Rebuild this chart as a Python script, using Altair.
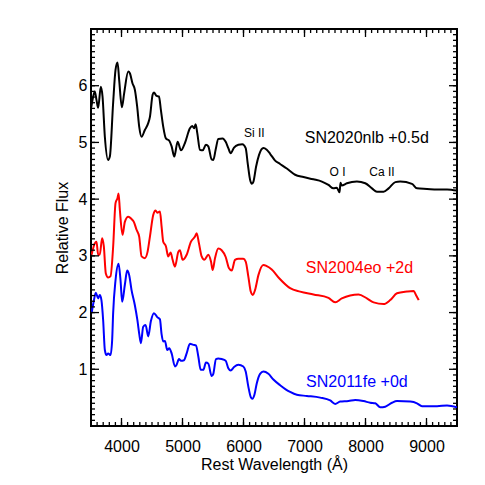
import altair as alt
import pandas as pd

# ---- data ----
nlb_wave = [3505, 3525, 3562, 3590, 3617, 3661, 3689, 3727, 3781, 3809, 3863, 3902, 3935, 3962, 4006, 4044,
            4110, 4137, 4181, 4219, 4257, 4290, 4329, 4383, 4438, 4466, 4510, 4532, 4575, 4614, 4646, 4684,
            4728, 4783, 4822, 4865, 4920, 4975, 5040, 5122, 5160, 5190, 5215, 5243, 5286, 5330, 5385, 5423,
            5478, 5505, 5543, 5587, 5658, 5708, 5751, 5790, 5845, 5916, 5981, 6036, 6069, 6108, 6136, 6163,
            6206, 6255, 6326, 6381, 6436, 6518, 6600, 6710, 6846, 6983, 7147, 7285, 7393, 7475, 7530, 7575,
            7590, 7610, 7695, 7859, 7996, 8106, 8188, 8297, 8379, 8488, 8570, 8762, 8844, 9009, 9173, 9337, 9500]
nlb_flux = [5.62, 5.75, 5.90, 5.75, 5.61, 5.98, 5.81, 5.10, 4.69, 4.75, 5.70, 6.28, 6.41, 6.10, 5.62, 5.87,
            6.25, 6.22, 6.04, 5.93, 5.63, 5.28, 5.10, 5.22, 5.34, 5.45, 5.84, 5.88, 5.82, 5.81, 5.57, 5.28,
            5.07, 5.03, 4.93, 4.75, 5.01, 4.86, 4.99, 5.25, 5.29, 5.25, 5.32, 5.16, 4.87, 4.86, 4.96, 4.93,
            4.70, 4.69, 4.87, 5.06, 5.07, 5.01, 4.90, 4.81, 4.91, 4.96, 4.97, 4.90, 4.63, 4.34, 4.27, 4.31,
            4.57, 4.78, 4.90, 4.87, 4.80, 4.68, 4.62, 4.54, 4.43, 4.39, 4.35, 4.31, 4.25, 4.19, 4.20, 4.12,
            4.29, 4.24, 4.28, 4.31, 4.28, 4.19, 4.13, 4.13, 4.19, 4.30, 4.31, 4.27, 4.19, 4.18, 4.17, 4.17, 4.15]

eo_wave = [3510, 3562, 3590, 3617, 3644, 3682, 3710, 3743, 3781, 3820, 3863, 3902, 3935, 3952, 3973, 4017,
           4055, 4110, 4164, 4202, 4247, 4290, 4329, 4383, 4427, 4466, 4520, 4559, 4587, 4630, 4657, 4684,
           4728, 4766, 4805, 4838, 4876, 4931, 4958, 5002, 5068, 5139, 5205, 5232, 5270, 5314, 5358, 5424,
           5467, 5495, 5533, 5587, 5642, 5708, 5763, 5806, 5861, 5916, 5997, 6036, 6080, 6119, 6152, 6190,
           6244, 6326, 6381, 6463, 6589, 6764, 6929, 7147, 7393, 7503, 7612, 7886, 8023, 8133, 8297, 8406,
           8516, 8680, 8790, 8827, 8872]
eo_flux = [3.02, 3.22, 3.25, 3.02, 3.02, 3.31, 3.17, 2.69, 2.62, 2.64, 3.16, 3.93, 4.02, 4.10, 3.81, 3.37,
           3.60, 3.69, 3.65, 3.60, 3.46, 3.34, 2.99, 2.96, 3.07, 3.34, 3.72, 3.80, 3.76, 3.78, 3.52, 3.25,
           3.17, 2.99, 3.06, 2.93, 2.81, 3.07, 3.10, 2.93, 3.02, 3.25, 3.34, 3.40, 3.22, 2.99, 2.93, 3.02,
           2.90, 2.75, 2.96, 3.13, 3.10, 2.98, 2.78, 2.74, 2.93, 2.95, 2.95, 2.90, 2.63, 2.37, 2.31, 2.40,
           2.66, 2.84, 2.82, 2.76, 2.60, 2.43, 2.37, 2.32, 2.26, 2.18, 2.25, 2.32, 2.25, 2.18, 2.15, 2.22,
           2.34, 2.37, 2.38, 2.31, 2.22]

fe_wave = [3510, 3545, 3579, 3617, 3644, 3671, 3699, 3727, 3754, 3781, 3820, 3847, 3863, 3902, 3952, 3984,
           4011, 4055, 4093, 4126, 4164, 4219, 4260, 4290, 4318, 4356, 4395, 4438, 4482, 4532, 4586, 4630,
           4657, 4684, 4712, 4750, 4783, 4822, 4876, 4904, 4942, 4975, 5024, 5068, 5122, 5177, 5221, 5260,
           5298, 5341, 5385, 5423, 5478, 5505, 5549, 5587, 5642, 5708, 5751, 5790, 5845, 5916, 5997, 6036,
           6080, 6119, 6146, 6179, 6217, 6272, 6326, 6408, 6490, 6600, 6764, 6874, 7039, 7257, 7421, 7503,
           7585, 7722, 7832, 7968, 8078, 8160, 8242, 8324, 8434, 8516, 8735, 8844, 8927, 9009, 9173, 9337, 9500]
fe_flux = [1.99, 2.20, 2.35, 2.25, 2.31, 2.22, 1.87, 1.34, 1.25, 1.28, 1.25, 1.52, 1.99, 2.57, 2.86, 2.57,
           2.19, 2.49, 2.74, 2.66, 2.40, 2.13, 1.87, 1.63, 1.46, 1.75, 1.78, 1.58, 1.85, 1.99, 1.92, 1.88,
           1.62, 1.49, 1.50, 1.34, 1.37, 1.28, 1.05, 1.08, 1.18, 1.15, 1.16, 1.28, 1.45, 1.43, 1.42, 1.22,
           0.99, 0.99, 1.12, 1.10, 0.88, 0.92, 1.18, 1.19, 1.18, 1.15, 1.02, 0.98, 1.04, 1.08, 1.05, 0.96,
           0.69, 0.51, 0.48, 0.55, 0.75, 0.92, 0.96, 0.92, 0.82, 0.72, 0.60, 0.55, 0.53, 0.50, 0.45, 0.39,
           0.43, 0.44, 0.46, 0.44, 0.41, 0.40, 0.33, 0.34, 0.41, 0.44, 0.43, 0.40, 0.35, 0.35, 0.35, 0.36, 0.33]

series_names = ["SN2020nlb", "SN2004eo", "SN2011fe"]
series_colors = ["#000000", "#ff0000", "#0000ff"]

label_text = ["SN2020nlb +0.5d", "SN2004eo +2d", "SN2011fe +0d", "Si II", "O I", "Ca II"]
label_wave = [8021, 7901, 7859, 6178, 7541, 8270]
label_flux = [5.07, 2.79, 0.78, 5.16, 4.47, 4.47]
label_color = ["#000000", "#ff0000", "#0000ff", "#000000", "#000000", "#000000"]
label_size = [16, 16, 16, 12, 12, 12]

x_major = [4000, 5000, 6000, 7000, 8000, 9000]
x_minor = list(range(3500, 9501, 100))
y_major = [1, 2, 3, 4, 5, 6]
y_minor = [round(i * 0.1, 1) for i in range(0, 71)]

FONT = "Liberation Sans"
W, H = 366, 397
MAJOR, MINOR = 8, 4

# ---- build tables ----
rows = []
for name, ws, fs in zip(series_names, [nlb_wave, eo_wave, fe_wave], [nlb_flux, eo_flux, fe_flux]):
    assert len(ws) == len(fs), (name, len(ws), len(fs))
    for w, f in zip(ws, fs):
        rows.append({"series": name, "wave": w, "flux": f})
df = pd.DataFrame(rows)
labels = pd.DataFrame({"text": label_text, "wave": label_wave, "flux": label_flux,
                       "color": label_color, "size": label_size})

xs = alt.Scale(domain=[3500, 9500], nice=False, zero=False)
ys = alt.Scale(domain=[0, 7], nice=False, zero=False)

X_AXIS = alt.Axis(values=x_major, ticks=False, domain=False, grid=False, format="d",
                  labelPadding=12, labelFontSize=16, labelFont=FONT, labelColor="black",
                  title="Rest Wavelength (Å)",
                  titleFontSize=16, titleFont=FONT, titleFontWeight="normal",
                  titleColor="black", titlePadding=2)
Y_AXIS = alt.Axis(values=y_major, ticks=False, domain=False, grid=False, format="d",
                  labelPadding=4, labelFontSize=16, labelFont=FONT, labelColor="black",
                  title="Relative Flux",
                  titleFontSize=16, titleFont=FONT, titleFontWeight="normal",
                  titleColor="black", titlePadding=8)

lines = alt.Chart(df).mark_line(strokeWidth=2, interpolate="monotone", clip=True).encode(
    x=alt.X("wave:Q", scale=xs, axis=X_AXIS),
    y=alt.Y("flux:Q", scale=ys, axis=Y_AXIS),
    color=alt.Color("series:N", scale=alt.Scale(domain=series_names, range=series_colors), legend=None),
    detail="series:N",
)


def xticks(values, side, length):
    y0 = H if side == "bottom" else 0
    y1 = H - length if side == "bottom" else length
    return alt.Chart(pd.DataFrame({"v": values})).mark_rule(color="black", strokeWidth=1.3).encode(
        x=alt.X("v:Q", scale=xs, axis=X_AXIS), y=alt.value(y0), y2=alt.value(y1))


def yticks(values, side, length):
    x0 = 0 if side == "left" else W
    x1 = length if side == "left" else W - length
    return alt.Chart(pd.DataFrame({"v": values})).mark_rule(color="black", strokeWidth=1.3).encode(
        y=alt.Y("v:Q", scale=ys, axis=Y_AXIS), x=alt.value(x0), x2=alt.value(x1))


tick_layers = [
    xticks(x_major, "bottom", MAJOR), xticks(x_minor, "bottom", MINOR),
    xticks(x_major, "top", MAJOR), xticks(x_minor, "top", MINOR),
    yticks(y_major, "left", MAJOR), yticks(y_minor, "left", MINOR),
    yticks(y_major, "right", MAJOR), yticks(y_minor, "right", MINOR),
]

text = alt.Chart(labels).mark_text(font=FONT, align="center", baseline="middle").encode(
    x=alt.X("wave:Q", scale=xs, axis=X_AXIS),
    y=alt.Y("flux:Q", scale=ys, axis=Y_AXIS),
    text="text:N",
    color=alt.Color("color:N", scale=None),
    size=alt.Size("size:Q", scale=None),
)

chart = alt.layer(lines, *tick_layers, text).properties(
    width=W, height=H,
    autosize=alt.AutoSizeParams(type="pad"),
    padding={"left": 46, "top": 20, "right": 12, "bottom": 10},
).configure_view(stroke="black", strokeWidth=2)

chart.save("out.html", embed_options={"renderer": "svg", "actions": False})
